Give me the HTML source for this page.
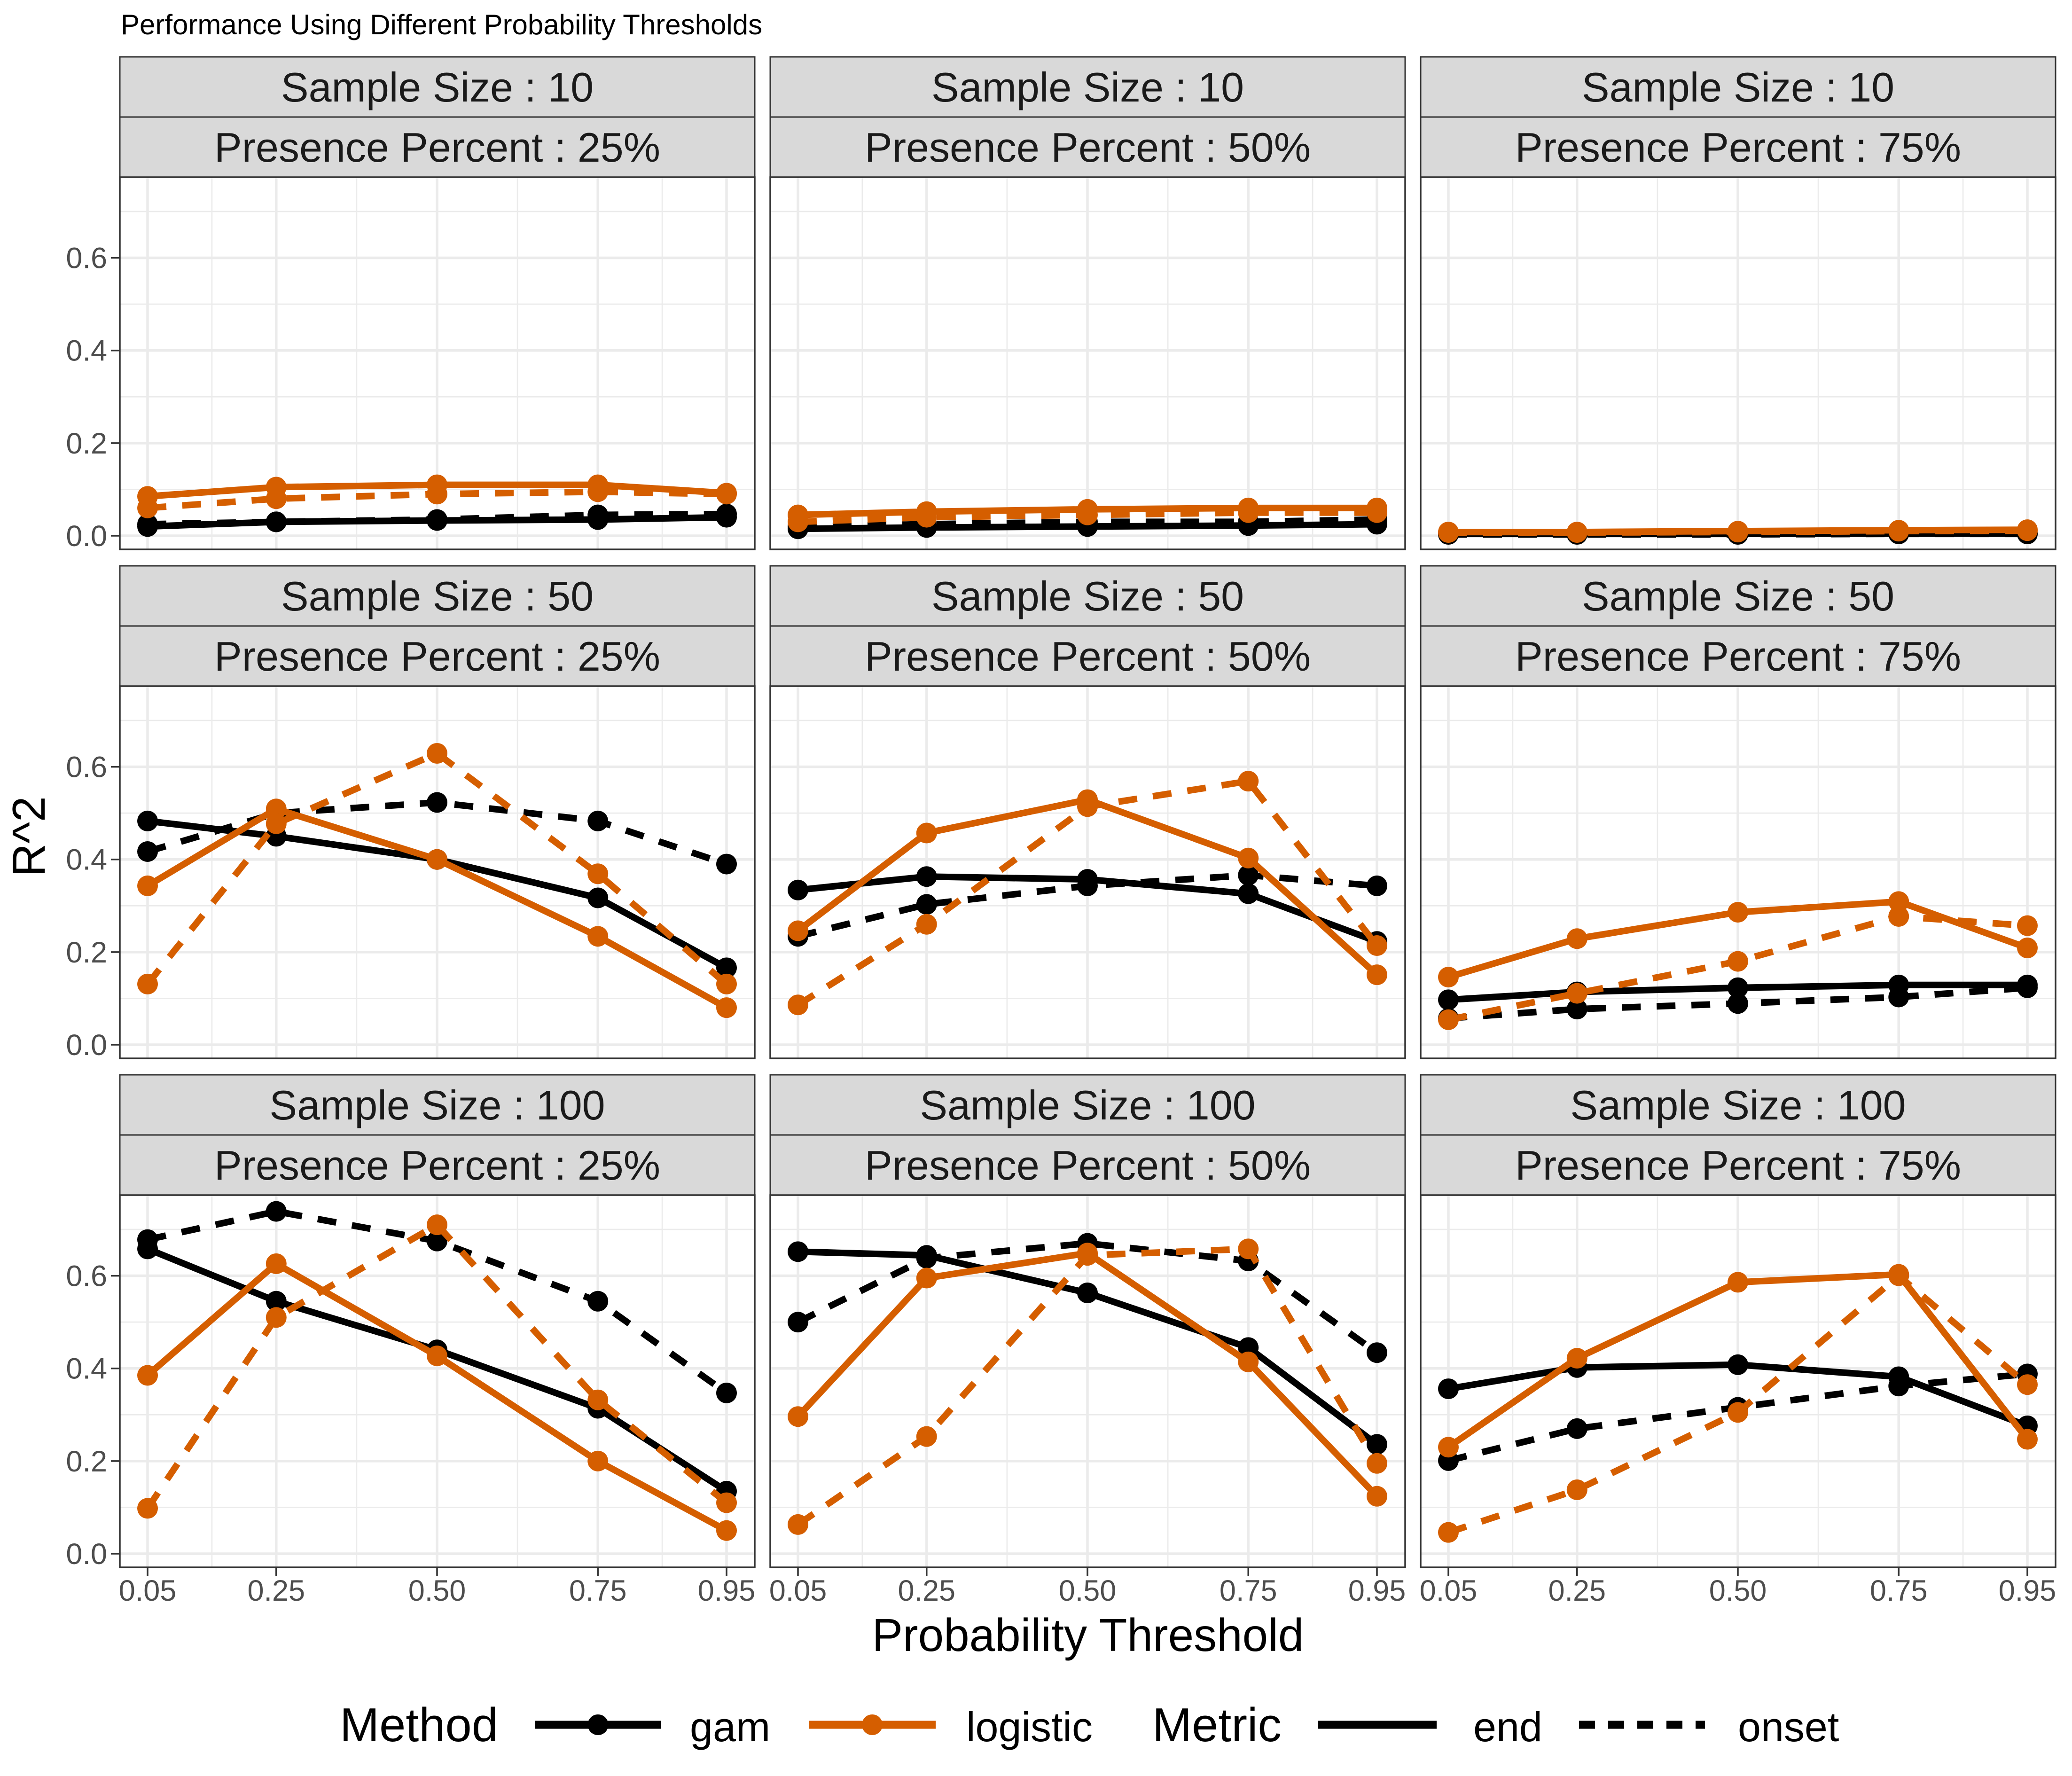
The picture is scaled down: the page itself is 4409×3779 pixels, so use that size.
<!DOCTYPE html>
<html><head><meta charset="utf-8"><style>
html,body{margin:0;padding:0;background:#fff;}
svg{display:block;font-family:"Liberation Sans",sans-serif;}
</style></head><body>
<svg id="chart" width="4409" height="3779" viewBox="0 0 4409 3779" xmlns="http://www.w3.org/2000/svg">
<text x="257" y="73" font-size="60" fill="#000">Performance Using Different Probability Thresholds</text>
<text transform="translate(95,1780) rotate(-90)" text-anchor="middle" font-size="98" fill="#000">R^2</text>
<text x="2315" y="3513" text-anchor="middle" font-size="98" fill="#000">Probability Threshold</text>
<g id="panels"></g>
<g id="legend"></g>
</svg>
<script>
const thresholds = [0.05, 0.25, 0.50, 0.75, 0.95];
const xTickLabels = ["0.05", "0.25", "0.50", "0.75", "0.95"];
const yTicks = [0, 0.2, 0.4, 0.6];
const yTickLabels = ["0.0", "0.2", "0.4", "0.6"];
const sampleSizes = ["10", "50", "100"];
const presencePercents = ["25%", "50%", "75%"];

// [row][col] series values
const gamEnd = [
  [[.02,.03,.033,.035,.04],[.015,.018,.02,.022,.025],[.004,.004,.004,.005,.005]],
  [[.483,.45,.40,.317,.166],[.334,.363,.357,.326,.223],[.097,.114,.123,.129,.129]],
  [[.658,.545,.44,.314,.135],[.652,.644,.563,.445,.236],[.356,.402,.408,.382,.276]]
];
const gamOnset = [
  [[.025,.03,.035,.045,.047],[.02,.025,.03,.03,.035],[.003,.003,.003,.004,.004]],
  [[.417,.50,.523,.483,.39],[.234,.303,.343,.366,.343],[.057,.077,.089,.103,.123]],
  [[.678,.739,.675,.545,.347],[.50,.638,.67,.632,.434],[.201,.27,.316,.362,.388]]
];
const logisticEnd = [
  [[.085,.105,.11,.11,.092],[.045,.052,.057,.06,.06],[.008,.008,.01,.012,.013]],
  [[.343,.509,.40,.234,.08],[.246,.457,.529,.403,.151],[.146,.229,.286,.309,.209]],
  [[.385,.626,.427,.20,.05],[.296,.595,.649,.414,.124],[.23,.422,.586,.603,.247]]
];
const logisticOnset = [
  [[.06,.08,.09,.095,.09],[.03,.04,.045,.05,.05],[.007,.007,.008,.01,.011]],
  [[.131,.477,.629,.369,.131],[.086,.26,.514,.569,.214],[.054,.111,.18,.277,.257]],
  [[.098,.51,.71,.332,.11],[.063,.253,.644,.658,.195],[.046,.138,.305,.60,.365]]
];

const NS = "http://www.w3.org/2000/svg";
function mk(tag, attrs, parent){const e=document.createElementNS(NS,tag);for(const k in attrs)e.setAttribute(k,attrs[k]);parent.appendChild(e);return e;}

const panelLeft = [255, 1639, 3023];
const panelW = 1351;
const rowTop = [121, 1204, 2287];
const stripH = 128;
const bodyH = 792;
const ORANGE = "#D55E00";

function xScale(col, v){ return panelLeft[col] + 59 + (v - 0.05) / 0.9 * 1232; }
function yScale(row, v){ return rowTop[row] + 2*stripH + 763 - v * 985.7; }

const root = document.getElementById('panels');
for (let r = 0; r < 3; r++) {
  for (let c = 0; c < 3; c++) {
    const g = mk('g', {}, root);
    
    
    const L = panelLeft[c], T = rowTop[r], bt = T + 2*stripH, bb = bt + bodyH;
    for (let s = 0; s < 2; s++) {
      const rect = mk('rect', {x:L, y:T + s*stripH, width:panelW, height:stripH, fill:'#D9D9D9', stroke:'#333333', 'stroke-width':3}, g);
      
      
      const t = mk('text', {x:L + panelW/2, y:T + s*stripH + 95, 'text-anchor':'middle', 'font-size':88, fill:'#1A1A1A'}, g);
      t.textContent = s===0 ? ('Sample Size : ' + sampleSizes[r]) : ('Presence Percent : ' + presencePercents[c]);
      
      
    }
    mk('rect', {x:L, y:bt, width:panelW, height:bodyH, fill:'#fff'}, g);
    [0.1,0.3,0.5,0.7].forEach(v => { const y=yScale(r,v); mk('line',{x1:L,x2:L+panelW,y1:y,y2:y,stroke:'#EBEBEB','stroke-width':2.7},g); });
    for (let i=0;i<thresholds.length-1;i++){ const x=xScale(c,(thresholds[i]+thresholds[i+1])/2); mk('line',{x1:x,x2:x,y1:bt,y2:bb,stroke:'#EBEBEB','stroke-width':2.7},g); }
    yTicks.forEach(v => { const y=yScale(r,v); mk('line',{x1:L,x2:L+panelW,y1:y,y2:y,stroke:'#EBEBEB','stroke-width':5.5},g); });
    thresholds.forEach(v => { const x=xScale(c,v); mk('line',{x1:x,x2:x,y1:bt,y2:bb,stroke:'#EBEBEB','stroke-width':5.5},g); });
    const series = [
      {name:'gam-end', d:gamEnd, color:'#000', dash:null},
      {name:'gam-onset', d:gamOnset, color:'#000', dash:'40 34'},
      {name:'logistic-end', d:logisticEnd, color:ORANGE, dash:null},
      {name:'logistic-onset', d:logisticOnset, color:ORANGE, dash:'40 34'}
    ];
    series.forEach(s => {
      const vals = s.d[r][c];
      const pts = vals.map((v,i)=> xScale(c,thresholds[i]).toFixed(1)+','+yScale(r,v).toFixed(1)).join(' ');
      const attrs = {points:pts, fill:'none', stroke:s.color, 'stroke-width':14, 'stroke-linejoin':'round'};
      if (s.dash) attrs['stroke-dasharray'] = s.dash;
      const pl = mk('polyline', attrs, g);
      
      
      vals.forEach((v,i) => {
        const pt = mk('circle', {cx:xScale(c,thresholds[i]), cy:yScale(r,v), r:22, fill:s.color}, g);
        
        
      });
    });
    mk('rect', {x:L, y:bt, width:panelW, height:bodyH, fill:'none', stroke:'#333333', 'stroke-width':3.5}, g);
    if (c === 0) {
      yTicks.forEach((v,i) => {
        const y = yScale(r,v);
        mk('line',{x1:L-19,x2:L,y1:y,y2:y,stroke:'#333','stroke-width':3.5},g);
        const t = mk('text',{x:L-27,y:y+22,'text-anchor':'end','font-size':63,fill:'#4D4D4D'},g);
        t.textContent = yTickLabels[i];
        
        
      });
    }
    if (r === 2) {
      thresholds.forEach((v,i) => {
        const x = xScale(c,v);
        mk('line',{x1:x,x2:x,y1:bb,y2:bb+19,stroke:'#333','stroke-width':3.5},g);
        const t = mk('text',{x:x,y:3406,'text-anchor':'middle','font-size':63,fill:'#4D4D4D'},g);
        t.textContent = xTickLabels[i];
        
        
      });
    }
  }
}
const lg = document.getElementById('legend');
const ly = 3670, lb = 3705;
function ltext(x, str, size, name){ const t=mk('text',{x:x,y:lb,'font-size':size,fill:'#000'},lg); t.textContent=str;   }
ltext(723,'Method',101,'legend-title-method');
ltext(2452,'Metric',101,'legend-title-metric');
const keys = [
  {x1:1139,x2:1406,color:'#000',dash:null,pt:true,label:'gam',lx:1468,name:'legend-entry-gam'},
  {x1:1721,x2:1991,color:ORANGE,dash:null,pt:true,label:'logistic',lx:2056,name:'legend-entry-logistic'},
  {x1:2804,x2:3057,color:'#000',dash:null,pt:false,label:'end',lx:3135,name:'legend-entry-end'},
  {x1:3360,x2:3628,color:'#000',dash:'34 28',pt:false,label:'onset',lx:3698,name:'legend-entry-onset'}
];
keys.forEach(k => {
  const a = {x1:k.x1,x2:k.x2,y1:ly,y2:ly,stroke:k.color,'stroke-width':17};
  if (k.dash) a['stroke-dasharray']=k.dash;
  const l = mk('line',a,lg);
  
  
  if (k.pt) mk('circle',{cx:(k.x1+k.x2)/2,cy:ly,r:22,fill:k.color},lg);
  ltext(k.lx,k.label,88,k.name+'-label');
});
</script>
</body></html>
